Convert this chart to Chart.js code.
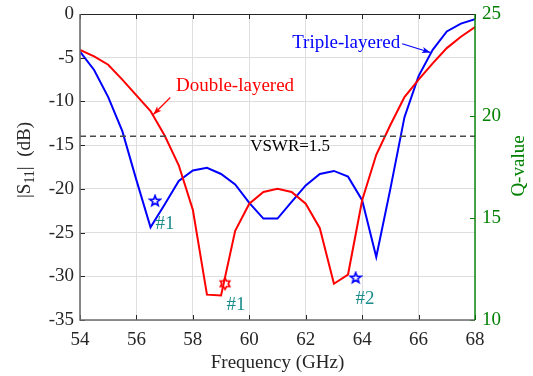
<!DOCTYPE html>
<html><head><meta charset="utf-8">
<script src="https://cdn.jsdelivr.net/npm/chart.js@4.4.0/dist/chart.umd.min.js"></script>
<style>html,body{margin:0;padding:0;background:#fff}#wrap{width:533px;height:376px}</style>
</head><body><div id="wrap"><canvas id="c" width="533" height="376"></canvas></div>
<script>
// ---- data ----
const freqs = [54,54.5,55,55.5,56,56.5,57,57.5,58,58.5,59,59.5,60,60.5,61,61.5,62,62.5,63,63.5,64,64.5,65,65.5,66,66.5,67,67.5,68];
const tripleLayered = [-4.3,-6.4,-9.5,-13.4,-19.0,-24.4,-21.8,-19.1,-17.9,-17.6,-18.3,-19.5,-21.6,-23.4,-23.4,-21.5,-19.6,-18.3,-17.95,-18.6,-21.3,-27.8,-20.0,-11.8,-7.1,-4.1,-2.0,-1.1,-0.6];
const doubleLayered = [-4.1,-4.85,-5.8,-7.5,-9.3,-11.1,-13.9,-17.3,-22.4,-32.1,-32.2,-24.8,-21.7,-20.35,-20.0,-20.35,-21.7,-24.5,-30.85,-29.8,-21.3,-16.1,-12.7,-9.5,-7.5,-5.65,-3.9,-2.6,-1.5];
const vswrLevel = -13.98;
const xTicks = [54,56,58,60,62,64,66,68];
const yTicks = [-35,-30,-25,-20,-15,-10,-5,0];
const qTicks = [10,15,20,25];
const tripleMarkerF = [56.66,63.77];
const tripleMarkerDb = [-21.4,-30.2];
const doubleMarkerF = [59.14];
const doubleMarkerDb = [-30.85];
const markerLabels = ['#1','#2','#1'];

// ---- styles ----
const SERIF = '"Liberation Serif","Times New Roman",serif';
const TXT = '#262626';
const GREEN = '#008000';
const TEAL = '#1a8c8c';

function starCanvas(points, inner, color){
  const s = 14, c = document.createElement('canvas'); c.width = s; c.height = s;
  const g = c.getContext('2d'); const R = 5.5, r = R*inner;
  g.beginPath();
  for(let i=0;i<points*2;i++){
    const a = -Math.PI/2 + i*Math.PI/points; const rr = i%2===0?R:r;
    const x = s/2 + rr*Math.cos(a), y = s/2 + rr*Math.sin(a);
    i===0?g.moveTo(x,y):g.lineTo(x,y);
  }
  g.closePath(); g.fillStyle='#fff'; g.fill(); g.lineWidth=1.6; g.strokeStyle=color; g.stroke();
  return c;
}
const pentagram = starCanvas(5, 0.42, '#0000ff');
const hexagram = starCanvas(6, 0.577, '#ff0000');

function arrow(ctx,x1,y1,x2,y2,color){
  ctx.save(); ctx.strokeStyle=color; ctx.fillStyle=color; ctx.lineWidth=1.2;
  ctx.beginPath(); ctx.moveTo(x1,y1); ctx.lineTo(x2,y2); ctx.stroke();
  const a=Math.atan2(y2-y1,x2-x1), L=9, w=0.35;
  ctx.beginPath(); ctx.moveTo(x2,y2);
  ctx.lineTo(x2-L*Math.cos(a-w), y2-L*Math.sin(a-w));
  ctx.lineTo(x2-L*0.7*Math.cos(a), y2-L*0.7*Math.sin(a));
  ctx.lineTo(x2-L*Math.cos(a+w), y2-L*Math.sin(a+w));
  ctx.closePath(); ctx.fill(); ctx.restore();
}

const decor = {
  id:'decor',
  afterDraw(chart){
    const ctx = chart.ctx, a = chart.chartArea;
    const xs = chart.scales.x, ys = chart.scales.y, qs = chart.scales.q;
    ctx.save();
    ctx.lineWidth = 1;
    ctx.strokeStyle = TXT;
    xTicks.forEach(v=>{ const px=Math.round(xs.getPixelForValue(v))+0.5;
      ctx.beginPath(); ctx.moveTo(px,a.bottom); ctx.lineTo(px,a.bottom-5); ctx.moveTo(px,a.top); ctx.lineTo(px,a.top+5); ctx.stroke(); });
    yTicks.forEach(v=>{ const py=Math.round(ys.getPixelForValue(v))+0.5;
      ctx.beginPath(); ctx.moveTo(a.left,py); ctx.lineTo(a.left+5,py); ctx.stroke(); });
    ctx.strokeStyle = GREEN;
    qTicks.forEach(v=>{ const py=Math.round(qs.getPixelForValue(v))+0.5;
      ctx.beginPath(); ctx.moveTo(a.right,py); ctx.lineTo(a.right-5,py); ctx.stroke(); });
    ctx.lineWidth = 1; ctx.strokeStyle = TXT;
    ctx.beginPath(); ctx.moveTo(a.left,a.top+0.5); ctx.lineTo(a.right,a.top+0.5); ctx.stroke();
    ctx.lineWidth = 1.6; ctx.strokeStyle = '#6e6e6e';
    ctx.beginPath(); ctx.moveTo(a.left,a.top); ctx.lineTo(a.left,a.bottom); ctx.lineTo(a.right,a.bottom); ctx.stroke();
    ctx.lineWidth = 1.4; ctx.strokeStyle = GREEN;
    ctx.beginPath(); ctx.moveTo(a.right,a.top); ctx.lineTo(a.right,a.bottom); ctx.stroke();

    ctx.textBaseline='middle'; ctx.textAlign='center';
    ctx.fillStyle = TXT; ctx.font = '19px '+SERIF;
    ctx.fillText('Frequency (GHz)', (a.left+a.right)/2, 363);
    ctx.save(); ctx.translate(25,160); ctx.rotate(-Math.PI/2);
    const big='19px '+SERIF, small='14px '+SERIF;
    ctx.font=big; const w1=ctx.measureText('|S').width, w3=ctx.measureText('|  (dB)').width;
    ctx.font=small; const w2=ctx.measureText('11').width;
    let x0=-(w1+w2+w3)/2; ctx.textAlign='left';
    ctx.font=big; ctx.fillText('|S',x0,0);
    ctx.font=small; ctx.fillText('11',x0+w1,5);
    ctx.font=big; ctx.fillText('|  (dB)',x0+w1+w2,0);
    ctx.restore();
    ctx.save(); ctx.translate(519,166); ctx.rotate(-Math.PI/2);
    ctx.fillStyle=GREEN; ctx.font='19px '+SERIF; ctx.textAlign='center'; ctx.textBaseline='middle';
    ctx.fillText('Q-value',0,0); ctx.restore();

    const P=(f,d)=>[xs.getPixelForValue(f), ys.getPixelForValue(d)];
    ctx.textAlign='left'; ctx.textBaseline='middle';
    ctx.font='19px '+SERIF;
    ctx.fillStyle='#ff0000'; let p=P(57.4,-8.25); ctx.fillText('Double-layered',p[0],p[1]);
    let t=P(57.2,-9.55), h=P(56.6,-11.5); arrow(ctx,t[0],t[1],h[0],h[1],'#ff0000');
    ctx.fillStyle='#0000ff'; p=P(61.52,-3.3); ctx.fillText('Triple-layered',p[0],p[1]);
    t=P(65.42,-3.4); h=P(66.42,-4.4); arrow(ctx,t[0],t[1],h[0],h[1],'#0000ff');
    ctx.fillStyle='#000'; ctx.font='17px '+SERIF; p=P(60.03,-15.15); ctx.fillText('VSWR=1.5',p[0],p[1]);
    ctx.fillStyle=TEAL; ctx.font='19px '+SERIF; ctx.textAlign='center';
    p=P(57.01,-24.05); ctx.fillText(markerLabels[0],p[0],p[1]);
    p=P(64.1,-32.6); ctx.fillText(markerLabels[1],p[0],p[1]);
    p=P(59.53,-33.3); ctx.fillText(markerLabels[2],p[0],p[1]);
    ctx.restore();
  }
};

const pts = (xsArr, ysArr) => xsArr.map((f,i)=>({x:f,y:ysArr[i]}));

new Chart(document.getElementById('c'), {
  type:'line',
  data:{ datasets:[
    {label:'VSWR=1.5', data:[{x:freqs[0],y:vswrLevel},{x:freqs[freqs.length-1],y:vswrLevel}], borderColor:'#4a4a4a', borderWidth:1.5, borderDash:[6,4], pointRadius:0},
    {label:'Double-layered', data:pts(freqs,doubleLayered), borderColor:'#ff0000', borderWidth:2, pointRadius:0, tension:0},
    {label:'Triple-layered', data:pts(freqs,tripleLayered), borderColor:'#0000ff', borderWidth:2, pointRadius:0, tension:0},
    {label:'Triple markers', data:pts(tripleMarkerF,tripleMarkerDb), showLine:false, pointStyle:pentagram, pointRadius:7},
    {label:'Double markers', data:pts(doubleMarkerF,doubleMarkerDb), showLine:false, pointStyle:hexagram, pointRadius:7}
  ]},
  options:{
    responsive:false, animation:false, devicePixelRatio:1,
    layout:{padding:{top:14,left:0,right:0,bottom:0}},
    plugins:{legend:{display:false}, tooltip:{enabled:false}},
    scales:{
      x:{type:'linear', min:54, max:68, afterBuildTicks:s=>{s.ticks=xTicks.map(v=>({value:v}));},
        afterFit:s=>{s.height=56; s.paddingLeft=0; s.paddingRight=0;},
        grid:{color:'#dedede', drawTicks:false}, border:{display:false},
        ticks:{padding:9, color:TXT, font:{family:SERIF,size:19}, maxRotation:0, autoSkip:false}},
      y:{type:'linear', position:'left', min:-35, max:0, afterBuildTicks:s=>{s.ticks=yTicks.map(v=>({value:v}));},
        afterFit:s=>{s.width=80; s.paddingTop=0; s.paddingBottom=0;},
        grid:{color:'#dedede', drawTicks:false}, border:{display:false},
        ticks:{padding:6, color:TXT, font:{family:SERIF,size:19}}},
      q:{type:'linear', position:'right', min:10, max:25, afterBuildTicks:s=>{s.ticks=qTicks.map(v=>({value:v}));},
        afterFit:s=>{s.width=58; s.paddingTop=0; s.paddingBottom=0;},
        grid:{drawOnChartArea:false, drawTicks:false}, border:{display:false},
        ticks:{padding:7, color:GREEN, font:{family:SERIF,size:19}}}
    }
  },
  plugins:[decor]
});
</script></body></html>
